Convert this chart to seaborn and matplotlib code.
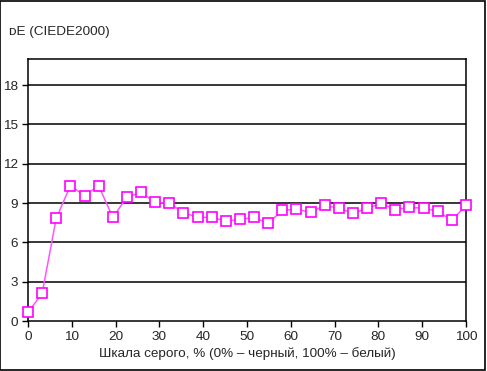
import numpy as np
import pandas as pd
import matplotlib
matplotlib.use("Agg")
import matplotlib.pyplot as plt
import seaborn as sns

# Values
gray_level = [i * 100 / 31 for i in range(32)]
delta_e = [0.66, 2.11, 7.84, 10.33, 9.57, 10.33, 7.91, 9.44, 9.82, 9.06,
           8.98, 8.27, 7.91, 7.91, 7.63, 7.76, 7.91, 7.45, 8.45, 8.53,
           8.30, 8.83, 8.60, 8.22, 8.60, 8.98, 8.50, 8.68, 8.60, 8.37,
           7.68, 8.83]
y_ticks = [0, 3, 6, 9, 12, 15, 18]
x_ticks = [0, 10, 20, 30, 40, 50, 60, 70, 80, 90, 100]

df = pd.DataFrame({"gray": gray_level, "de": delta_e})

sns.set_style("white")
plt.rcParams['font.family'] = ['Liberation Sans', 'DejaVu Sans']

fig = plt.figure(figsize=(4.87, 3.71), dpi=100)
ax = fig.add_axes([28 / 487, 1 - 321 / 371, 438 / 487, 262 / 371])

for t in y_ticks[1:]:
    ax.axhline(t, color="black", lw=1.1, zorder=1)

sns.lineplot(data=df, x="gray", y="de", ax=ax, color="#ff55ff", lw=1.1,
             marker="s", markersize=6.5, markerfacecolor="white",
             markeredgecolor="#ff00ff", markeredgewidth=1.2, zorder=3,
             clip_on=False)

ax.set_xlim(0, 100)
ax.set_ylim(0, 20)
ax.set_xticks(x_ticks)
ax.set_yticks(y_ticks)
ax.tick_params(axis="both", labelsize=9.7, length=4, width=1, color="black",
               direction="out", left=True, bottom=True, pad=3)
for s in ax.spines.values():
    s.set_color("black")
    s.set_linewidth(1.1)
ax.set_xlabel("Шкала серого, % (0% – черный, 100% – белый)", fontsize=9.7,
              labelpad=3)
ax.set_ylabel("")

fig.text(9 / 487, 1 - 32 / 371, "ᴅE (CIEDE2000)", fontsize=9.7,
         va="center", ha="left", family=['Liberation Sans', 'DejaVu Sans'])

fig.patches.append(plt.Rectangle((0.001, 0.002), 0.995, 0.995,
                                 transform=fig.transFigure, fill=False,
                                 edgecolor="black", lw=1.2))

fig.savefig("out.png", dpi=100)
